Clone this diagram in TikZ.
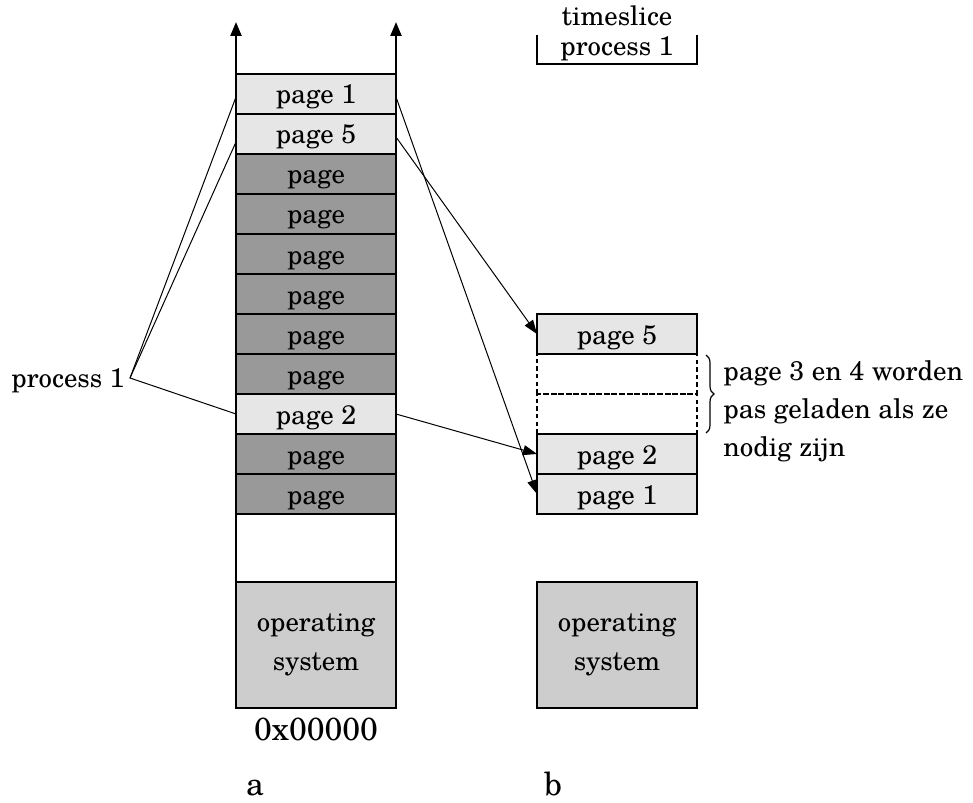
\documentclass[tikz,border=0pt]{standalone}
\usepackage{fontspec}
\setmainfont{texgyreschola}[Extension=.otf,UprightFont=*-regular,BoldFont=*-bold,ItalicFont=*-italic,BoldItalicFont=*-bolditalic]
\usetikzlibrary{arrows.meta,decorations.pathreplacing}
\definecolor{lightpg}{HTML}{E6E6E6}
\definecolor{darkpg}{HTML}{999999}
\definecolor{osgray}{HTML}{CDCDCD}
\begin{document}
\begin{tikzpicture}[x=0.5pt,y=-0.5pt,
 every node/.style={font=\fontsize{13.4}{15}\selectfont},
 box/.style={draw,line width=1.2pt,minimum width=80pt,minimum height=20pt,inner sep=0pt,outer sep=0pt},
 pagebox/.style={box,text height=15pt,text depth=5pt},
 lightbox/.style={pagebox,fill=lightpg},
 darkbox/.style={pagebox,fill=darkpg},
 emptybox/.style={box,dash pattern=on 2.2pt off 1.6pt},
 osbox/.style={box,fill=osgray,minimum height=63pt,align=center,font=\fontsize{13.4}{19.5}\selectfont},
 conn/.style={line width=0.5pt,-{Triangle[length=7pt,width=5pt]}},
 plainline/.style={line width=0.5pt},
 axis/.style={line width=1.2pt,-{Triangle[length=7pt,width=5.5pt]}},
 biglabel/.style={font=\fontsize{16}{19}\selectfont,inner sep=0pt}]
\useasboundingbox (0,0) rectangle (973,802);
% left column
\node[lightbox] (a1) at (316,94) {page 1};
\node[lightbox] (a5) at (316,134) {page 5};
\node[darkbox] (d1) at (316,174) {page};
\node[darkbox] (d2) at (316,214) {page};
\node[darkbox] (d3) at (316,254) {page};
\node[darkbox] (d4) at (316,294) {page};
\node[darkbox] (d5) at (316,334) {page};
\node[darkbox] (d6) at (316,374) {page};
\node[lightbox] (a2) at (316,414) {page 2};
\node[darkbox] (d7) at (316,454) {page};
\node[darkbox] (d8) at (316,494) {page};
\node[box,minimum height=34pt] (gapA) at (316,548) {};
\node[osbox] (osA) at (316,645) {operating\\system};
\coordinate (tl) at (236,22);
\coordinate (tr) at (396,22);
\draw[axis] (a1.north west) -- (tl);
\draw[axis] (a1.north east) -- (tr);
% right column
\node[emptybox] (e3) at (617,374) {};
\node[emptybox] (e4) at (617,414) {};
\node[lightbox] (b5) at (617,334) {page 5};
\node[lightbox] (b2) at (617,454) {page 2};
\node[lightbox] (b1) at (617,494) {page 1};
\node[osbox] (osB) at (617,645) {operating\\system};
% connectors
\draw[conn] ([yshift=-1.5pt]a1.east) -- (b1.west);
\draw[conn] ([yshift=-1.5pt]a5.east) -- (b5.west);
\draw[conn] (a2.east) -- (b2.west);
% process 1
\coordinate (pv) at (130,378);
\node[anchor=east,inner sep=0pt] (plabel) at (125,381) {process 1};
\draw[plainline] ([yshift=-1.5pt]a1.west) -- (pv) -- (a2.west);
\draw[plainline] ([yshift=-4pt]a5.west) -- (pv);
% timeslice
\node[align=center,inner sep=0pt] (ts) at (617,33) {timeslice\\process 1};
\coordinate (ts1) at (537,35);
\coordinate (ts2) at (537,64);
\coordinate (ts3) at (697,64);
\coordinate (ts4) at (697,35);
\draw[line width=1.2pt] (ts1) -- (ts2) -- (ts3) -- (ts4);
% brace
\coordinate (br1) at (706,355);
\coordinate (br2) at (706,433);
\draw[line width=0.6pt,decorate,decoration={brace,amplitude=4pt}] (br1) -- (br2);
\node[anchor=west,align=left,inner sep=0pt,font=\fontsize{13.5}{19}\selectfont] (note) at (723,411) {page 3 en 4 worden\\pas geladen als ze\\nodig zijn};
% bottom labels
\node[biglabel] (addr) at (316,729) {0x00000};
\node[biglabel,anchor=base] (la) at (255,795) {a};
\node[biglabel,anchor=base] (lb) at (553,795) {b};
\end{tikzpicture}
\end{document}
